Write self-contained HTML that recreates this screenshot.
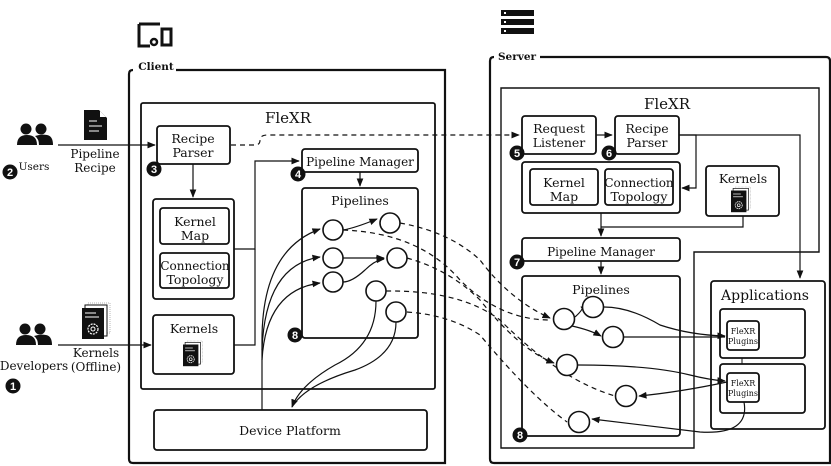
<!DOCTYPE html>
<html><head><meta charset="utf-8"><style>
html,body{margin:0;padding:0;background:#fff;}
svg{display:block;font-family:"DejaVu Serif","Liberation Serif",serif;}
</style></head><body>
<svg width="831" height="466" viewBox="0 0 831 466" xmlns="http://www.w3.org/2000/svg">
<defs>
<marker id="a" viewBox="0 0 10 10" refX="9" refY="5" markerWidth="7" markerHeight="7" orient="auto"><path d="M0,1 L10,5 L0,9 z" fill="#111"/></marker>
<g id="people"><circle cx="9" cy="6" r="5.5" fill="#111"/><circle cx="24" cy="6" r="5.5" fill="#111"/><path d="M0,22 Q0,12 10,12 Q20,12 20,22 Z" fill="#111"/><path d="M18,13 Q24,11 30,12 Q36,13 36,22 L22,22 Q22,16 18,13Z" fill="#111"/></g>
<g id="kern"><rect x="6" y="0" width="22" height="30" fill="#fff" stroke="#999" stroke-width="0.7" stroke-dasharray="1,1"/><rect x="3" y="2" width="22" height="31" fill="#fff" stroke="#111"/><rect x="0" y="5" width="22" height="31" fill="#111"/><line x1="3" y1="10" x2="14" y2="10" stroke="#fff"/><line x1="3" y1="14" x2="17" y2="14" stroke="#fff"/><circle cx="11" cy="26" r="5" fill="none" stroke="#fff" stroke-width="1.2" stroke-dasharray="2,1"/><circle cx="11" cy="26" r="2" fill="none" stroke="#fff"/></g>
<g id="b"><circle r="7.5" fill="#111"/></g>
</defs>
<g fill="none" stroke="#111" stroke-width="1.8">
<path d="M176,70 L445,70 L445,463 L133,463 Q129,463 129,459 L129,74 Q129,70 133,70" stroke-width="2.2"/>
<rect x="141" y="103" width="294" height="286" rx="2"/>
<rect x="157" y="126" width="73" height="38" rx="3"/>
<rect x="153" y="199" width="81" height="100" rx="3"/>
<rect x="160" y="208" width="69" height="36" rx="3"/>
<rect x="160" y="253" width="69" height="35" rx="3"/>
<rect x="153" y="315" width="81" height="59" rx="3"/>
<rect x="302" y="149" width="116" height="23" rx="3"/>
<rect x="302" y="188" width="116" height="150" rx="3"/>
<rect x="154" y="410" width="273" height="40" rx="3"/>
<path d="M540,57 L826,57 Q830,57 830,61 L830,463 L494,463 Q490,463 490,459 L490,61 Q490,57 494,57" stroke-width="2.2"/>
<path d="M501,88 L819,88 L819,252 L694,252 L694,448 L501,448 Z" stroke-width="1.4"/>
<rect x="522" y="116" width="74" height="38" rx="3"/>
<rect x="615" y="116" width="64" height="38" rx="3"/>
<rect x="522" y="162" width="158" height="51" rx="3"/>
<rect x="530" y="169" width="68" height="36" rx="3"/>
<rect x="605" y="169" width="68" height="36" rx="3"/>
<rect x="706" y="166" width="73" height="50" rx="3"/>
<rect x="522" y="238" width="158" height="23" rx="3"/>
<rect x="522" y="276" width="158" height="160" rx="3"/>
<rect x="711" y="281" width="114" height="148" rx="3"/>
<rect x="720" y="309" width="85" height="49" rx="3"/>
<rect x="720" y="364" width="85" height="49" rx="3"/>
<rect x="727" y="321" width="32" height="29" rx="3"/>
<rect x="727" y="373" width="32" height="29" rx="3"/>
<line x1="742" y1="358" x2="742" y2="364" stroke-width="1"/>
</g>
<g fill="none" stroke="#111" stroke-width="1.2">
<line x1="58" y1="145" x2="155" y2="145" marker-end="url(#a)"/>
<line x1="58" y1="345" x2="151" y2="345" marker-end="url(#a)"/>
<line x1="193" y1="164" x2="193" y2="197" marker-end="url(#a)"/>
<path d="M234,249 L255,249 L255,161 L299,161" marker-end="url(#a)"/>
<path d="M234,345 L255,345 L255,249"/>
<line x1="360" y1="172" x2="360" y2="186" marker-end="url(#a)"/>
<path d="M343,230 Q355,228 377,219" marker-end="url(#a)"/>
<line x1="343" y1="258" x2="384" y2="258" marker-end="url(#a)"/>
<path d="M343,282 Q352,282 365,270 Q375,260 384,259" marker-end="url(#a)"/>
<path d="M262,410 L262,340 Q262,250 320,229" marker-end="url(#a)"/>
<path d="M262,350 Q265,265 320,257" marker-end="url(#a)"/>
<path d="M262,360 Q266,290 320,283" marker-end="url(#a)"/>
<path d="M376,301 Q376,345 335,365 Q300,385 292,407" marker-end="url(#a)"/>
<path d="M396,322 Q396,355 355,370 Q305,385 292,407"/>
<path d="M596,135 L612,135" marker-end="url(#a)"/>
<path d="M679,135 L696,135 L696,188 L682,188" marker-end="url(#a)"/>
<path d="M679,135 L800,135 L800,278" marker-end="url(#a)"/>
<line x1="601" y1="213" x2="601" y2="236" marker-end="url(#a)"/>
<path d="M743,216 L743,227 L601,227"/>
<line x1="601" y1="261" x2="601" y2="274" marker-end="url(#a)"/>
<path d="M575,317 Q585,308 581,307" marker-end="url(#a)"/>
<path d="M572,326 Q590,330 601,336" marker-end="url(#a)"/>
<path d="M604,307 Q630,307 660,325 Q690,335 725,336" marker-end="url(#a)"/>
<line x1="624" y1="337" x2="725" y2="337"/>
<path d="M578,365 Q650,365 690,375 Q710,380 725,381" marker-end="url(#a)"/>
<path d="M727,382 Q680,392 639,396" marker-end="url(#a)"/>
<path d="M744,402 Q750,435 700,432 Q640,425 592,419" marker-end="url(#a)"/>
</g>
<g fill="none" stroke="#111" stroke-width="1.2" stroke-dasharray="5,4">
<path d="M231,145 L255,145 Q260,145 260,140 Q260,135 268,135 L519,135" marker-end="url(#a)"/>
<path d="M400,223 Q450,232 480,260 Q510,300 550,318" marker-end="url(#a)"/>
<path d="M343,230 Q420,233 460,280 Q500,320 550,320"/>
<path d="M407,258 Q450,270 480,300 Q520,350 554,363" marker-end="url(#a)"/>
<path d="M386,291 Q460,290 500,320 Q560,380 615,396"/>
<path d="M407,312 Q450,315 480,335 Q530,395 567,422"/>
</g>
<g fill="#fff" stroke="#111" stroke-width="1.6">
<circle cx="333" cy="230" r="10"/><circle cx="390" cy="223" r="10"/><circle cx="333" cy="258" r="10"/><circle cx="397" cy="258" r="10"/><circle cx="333" cy="282" r="10"/><circle cx="376" cy="291" r="10"/><circle cx="396" cy="312" r="10"/>
<circle cx="564" cy="319" r="10.5"/><circle cx="593" cy="307" r="10.5"/><circle cx="613" cy="337" r="10.5"/><circle cx="567" cy="365" r="10.5"/><circle cx="626" cy="396" r="10.5"/><circle cx="579" cy="422" r="10.5"/>
</g>
<g>
<path d="M139,24 L139,46 L150,46 M139,24 L160,24" fill="none" stroke="#111" stroke-width="3"/>
<circle cx="154" cy="42" r="3" fill="none" stroke="#111" stroke-width="2.5"/>
<rect x="162" y="29" width="9" height="16" fill="none" stroke="#111" stroke-width="3"/>
<rect x="501" y="10" width="33" height="6" fill="#111"/><rect x="501" y="19" width="33" height="6" fill="#111"/><rect x="501" y="28" width="33" height="6" fill="#111"/>
<rect x="504" y="12" width="2" height="2" fill="#fff"/><rect x="504" y="21" width="2" height="2" fill="#fff"/><rect x="504" y="30" width="2" height="2" fill="#fff"/>
<use href="#people" x="17" y="123"/>
<use href="#people" x="16" y="323"/>
<path d="M84,110 L99,110 L107,118 L107,140 L84,140 Z" fill="#111"/><path d="M100,111 L100,117 L106,117 Z" fill="#fff"/>
<line x1="89" y1="121" x2="97" y2="121" stroke="#fff"/><line x1="89" y1="126" x2="102" y2="126" stroke="#fff"/><line x1="89" y1="131" x2="99" y2="131" stroke="#fff"/>
<use href="#kern" x="82" y="303"/>
<g transform="translate(183,341) scale(0.7)"><use href="#kern"/></g>
<g transform="translate(731,187) scale(0.7)"><use href="#kern"/></g>
<use href="#b" x="13" y="386"/><use href="#b" x="10" y="172"/><use href="#b" x="154" y="169"/><use href="#b" x="298" y="174"/><use href="#b" x="295" y="335"/><use href="#b" x="517" y="153"/><use href="#b" x="609" y="153"/><use href="#b" x="517" y="262"/><use href="#b" x="520" y="435"/>
</g>
<g fill="#fff" font-family="Liberation Sans,sans-serif" font-weight="bold" font-size="11" text-anchor="middle">
<text x="13" y="390">1</text><text x="10" y="176">2</text><text x="154" y="173">3</text><text x="298" y="178">4</text><text x="295" y="339">8</text><text x="517" y="157">5</text><text x="609" y="157">6</text><text x="517" y="266">7</text><text x="520" y="439">8</text>
</g>
<g fill="#111" font-size="12.5" text-anchor="middle">
<text x="156" y="70" font-weight="bold" font-size="10.5">Client</text>
<text x="517" y="60" font-weight="bold" font-size="10.5">Server</text>
<text x="288" y="123" font-size="15">FleXR</text>
<text x="667" y="109" font-size="15">FleXR</text>
<text x="193" y="143">Recipe</text><text x="193" y="157">Parser</text>
<text x="195" y="226">Kernel</text><text x="195" y="240">Map</text>
<text x="195" y="270" font-size="12">Connection</text><text x="195" y="284">Topology</text>
<text x="194" y="333">Kernels</text>
<text x="360" y="166" font-size="12">Pipeline Manager</text>
<text x="360" y="205">Pipelines</text>
<text x="290" y="435">Device Platform</text>
<text x="559" y="133">Request</text><text x="559" y="147">Listener</text>
<text x="647" y="133">Recipe</text><text x="647" y="147">Parser</text>
<text x="564" y="187">Kernel</text><text x="564" y="201">Map</text>
<text x="639" y="187" font-size="12">Connection</text><text x="639" y="201">Topology</text>
<text x="743" y="183">Kernels</text>
<text x="601" y="256" font-size="12">Pipeline Manager</text>
<text x="601" y="294">Pipelines</text>
<text x="765" y="300" font-size="14">Applications</text>
<text x="743" y="334" font-size="8">FleXR</text><text x="743" y="344" font-size="8">Plugins</text>
<text x="743" y="386" font-size="8">FleXR</text><text x="743" y="396" font-size="8">Plugins</text>
<text x="34" y="170" font-size="10.5">Users</text>
<text x="95" y="158" font-size="12">Pipeline</text><text x="95" y="172" font-size="12">Recipe</text>
<text x="34" y="370" font-size="12">Developers</text>
<text x="96" y="357" font-size="12">Kernels</text><text x="96" y="371" font-size="12">(Offline)</text>
</g>
</svg>
</body></html>
